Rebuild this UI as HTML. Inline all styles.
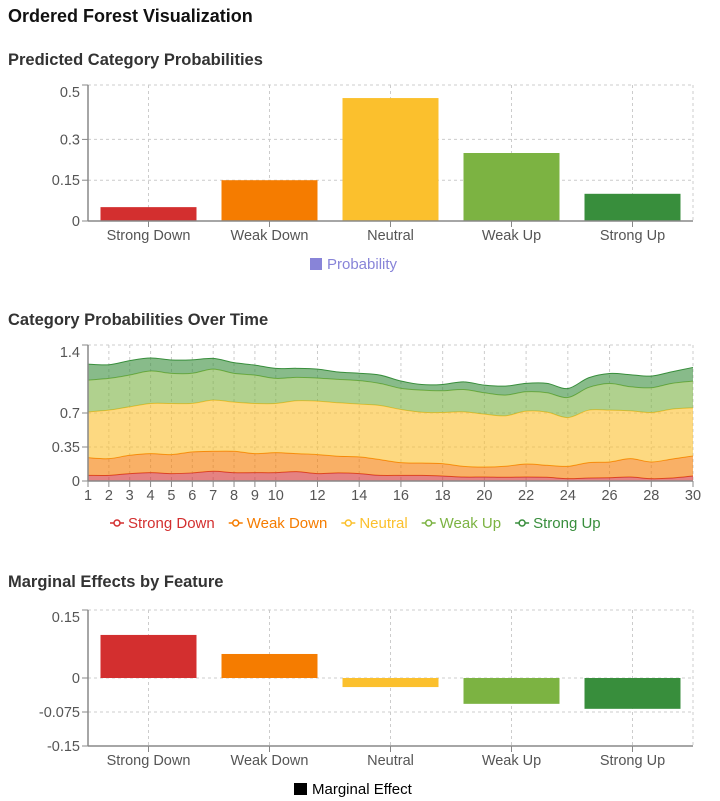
<!DOCTYPE html>
<html><head><meta charset="utf-8">
<style>
body{margin:0;background:#fff;font-family:"Liberation Sans",Arial,sans-serif;}
svg{display:block}
text{font-family:"Liberation Sans",Arial,sans-serif}
</style></head>
<body>
<svg id="root" width="720" height="801"></svg>
<script>
const cats=["Strong Down","Weak Down","Neutral","Weak Up","Strong Up"];
const colors=["#d32f2f","#f57c00","#fbc02d","#7cb342","#388e3c"];
const probValues=[0.051,0.15,0.452,0.25,0.1];
const probTicks=[0,0.15,0.3,0.5];
const timeX=[1,2,3,4,5,6,7,8,9,10,11,12,13,14,15,16,17,18,19,20,21,22,23,24,25,26,27,28,29,30];
const timeTicks=[1,2,3,4,5,6,7,8,9,10,12,14,16,18,20,22,24,26,28,30];
const yTicks2=[0,0.35,0.7,1.4];
const sStrongDown=[.058,.058,.076,.086,.076,.083,.100,.086,.086,.086,.096,.076,.083,.076,.058,.058,.058,.052,.041,.041,.038,.041,.038,.024,.031,.034,.041,.024,.031,.052];
const sWeakDown=[.182,.172,.189,.196,.196,.217,.206,.220,.196,.206,.186,.196,.172,.172,.162,.131,.127,.127,.110,.103,.114,.134,.124,.127,.158,.162,.189,.172,.196,.206];
const sNeutral=[.471,.499,.499,.516,.526,.499,.526,.506,.516,.506,.544,.550,.550,.544,.557,.547,.523,.526,.561,.544,.519,.544,.547,.502,.540,.533,.492,.509,.513,.495];
const sWeakUp=[.327,.327,.327,.334,.310,.310,.320,.296,.292,.258,.241,.237,.241,.241,.227,.217,.227,.224,.230,.220,.213,.200,.200,.206,.234,.275,.248,.255,.265,.275];
const sStrongUp=[.165,.141,.148,.134,.138,.138,.110,.110,.103,.103,.093,.093,.076,.076,.086,.076,.058,.065,.079,.079,.093,.086,.096,.093,.100,.103,.124,.120,.120,.141];
const margValues=[0.095,0.053,-0.02,-0.057,-0.068];
const margTicks=[-0.15,-0.075,0,0.15];

const NS="http://www.w3.org/2000/svg";
const root=document.getElementById('root');
function mk(tag,attrs,parent,txt){const e=document.createElementNS(NS,tag);for(const k in attrs)e.setAttribute(k,attrs[k]);if(txt!==undefined)e.textContent=txt;(parent||root).appendChild(e);return e;}
const L=88,R=693;

let t=mk('text',{x:8,y:22,'font-size':18,'font-weight':'bold',fill:'#111'},root,'Ordered Forest Visualization');


[["Predicted Category Probabilities",65],["Category Probabilities Over Time",325],["Marginal Effects by Feature",587]].forEach((s,i)=>{
 const e=mk('text',{x:8,y:s[1],'font-size':16.5,'font-weight':'bold',fill:'#333'},root,s[0]);
 
 
});

function frame(g,top,bot,ys,yTicks,xs,xTicks){
 yTicks.forEach(v=>{const y=ys(v);const l=mk('line',{x1:L,x2:R,y1:y,y2:y,stroke:'#ccc','stroke-dasharray':'3 3'},g);});
 xTicks.forEach(v=>{const x=xs(v);const l=mk('line',{x1:x,x2:x,y1:top,y2:bot,stroke:'#ccc','stroke-dasharray':'3 3'},g);});
 mk('line',{x1:R,x2:R,y1:top,y2:bot,stroke:'#ccc','stroke-dasharray':'3 3'},g);
}
function axes(g,top,bot,axisY,ys,yTicks,xs,xTicks,xlab,labDy){
 const ya=mk('line',{x1:L,x2:L,y1:top,y2:bot,stroke:'#888','stroke-width':1.5},g);
 const xa=mk('line',{x1:L,x2:R,y1:axisY,y2:axisY,stroke:'#888','stroke-width':1.5},g);
 yTicks.forEach((v,i)=>{const y=ys(v);mk('line',{x1:L-6,x2:L,y1:y,y2:y,stroke:'#888'},g);
  let yy=y+5; if(i===yTicks.length-1) yy=Math.max(yy,top+12);
  const e=mk('text',{x:L-8,y:yy,'text-anchor':'end','font-size':14.5,fill:'#555'},g,String(v));});
 xTicks.forEach((v,i)=>{const x=xs(v);mk('line',{x1:x,x2:x,y1:axisY,y2:axisY+6,stroke:'#888'},g);
  const e=mk('text',{x:x,y:axisY+labDy,'text-anchor':'middle','font-size':14.5,fill:'#555'},g,xlab?xlab[i]:String(v));});
}

// Chart 1
{
 const g=mk('g',{});
 const top=85,bot=221;const ys=v=>bot-v/0.5*(bot-top);const bw=(R-L)/cats.length;const xs=i=>L+bw*(i+0.5);
 frame(g,top,bot,ys,probTicks,xs,[0,1,2,3,4]);
 probValues.forEach((v,i)=>{const r=mk('rect',{x:xs(i)-48,y:ys(v),width:96,height:ys(0)-ys(v),fill:colors[i]},g);});
 axes(g,top,bot,bot,ys,probTicks,xs,[0,1,2,3,4],cats,19);
 const lg=mk('g',{},g);
 mk('rect',{x:310,y:258,width:12,height:12,fill:'#8884d8'},lg);mk('text',{x:327,y:269,'font-size':15,fill:'#8884d8'},lg,'Probability');
}

// Chart 2
{
 const g=mk('g',{});
 const top=345,bot=481;const ys=v=>bot-v/1.4*(bot-top);const xs=v=>L+(v-1)/29*(R-L);
 frame(g,top,bot,ys,yTicks2,xs,timeTicks);
 const series=[sStrongDown,sWeakDown,sNeutral,sWeakUp,sStrongUp];
 let base=timeX.map(()=>0);
 function curve(pts){
  let d='';for(let i=0;i<pts.length;i++){const p=pts[i];if(i===0){d+='M'+p[0]+','+p[1];continue;}
   const p0=pts[i-2]||pts[i-1],p1=pts[i-1],p3=pts[i+1]||p;
   const c1=[p1[0]+(p[0]-p0[0])/6,p1[1]+(p[1]-p0[1])/6],c2=[p[0]-(p3[0]-p1[0])/6,p[1]-(p3[1]-p1[1])/6];
   d+='C'+c1[0]+','+c1[1]+' '+c2[0]+','+c2[1]+' '+p[0]+','+p[1];}return d;}
 series.forEach((s,k)=>{
  const topv=base.map((b,i)=>b+s[i]);
  const upPts=timeX.map((x,i)=>[xs(x),ys(topv[i])]);
  const lowPts=timeX.map((x,i)=>[xs(x),ys(base[i])]).reverse();
  const d=curve(upPts)+'L'+lowPts[0][0]+','+lowPts[0][1]+curve(lowPts).slice(1).replace(/^[^C]*/,'')+'Z';
  const a=mk('path',{d:d,fill:colors[k],'fill-opacity':0.6,stroke:'none'},g);
  mk('path',{d:curve(upPts),fill:'none',stroke:colors[k],'stroke-width':1},g);
  base=topv;
 });
 axes(g,top,bot,bot,ys,yTicks2,xs,timeTicks,null,19);
 let lx=110;
 cats.forEach((c,k)=>{const lg=mk('g',{},g);
  mk('line',{x1:lx,x2:lx+14,y1:523,y2:523,stroke:colors[k],'stroke-width':1.5},lg);
  mk('circle',{cx:lx+7,cy:523,r:3,fill:'#fff',stroke:colors[k],'stroke-width':1.5},lg);
  const e=mk('text',{x:lx+18,y:528,'font-size':15,fill:colors[k]},lg,c);
  lx+=18+e.getComputedTextLength()+14;});
}

// Chart 3
{
 const g=mk('g',{});
 const top=610,bot=746;const ys=v=>bot-(v+0.15)/0.3*(bot-top);const bw=(R-L)/cats.length;const xs=i=>L+bw*(i+0.5);
 frame(g,top,bot,ys,margTicks,xs,[0,1,2,3,4]);
 margValues.forEach((v,i)=>{const y0=ys(0),y1=ys(v);const r=mk('rect',{x:xs(i)-48,y:Math.min(y0,y1),width:96,height:Math.abs(y1-y0),fill:colors[i]},g);});
 axes(g,top,bot,bot,ys,margTicks,xs,[0,1,2,3,4],cats,19);
 const lg=mk('g',{},g);
 mk('rect',{x:294,y:783,width:13,height:12,fill:'#000'},lg);mk('text',{x:312,y:794,'font-size':15,fill:'#000'},lg,'Marginal Effect');
}
</script>
</body></html>
